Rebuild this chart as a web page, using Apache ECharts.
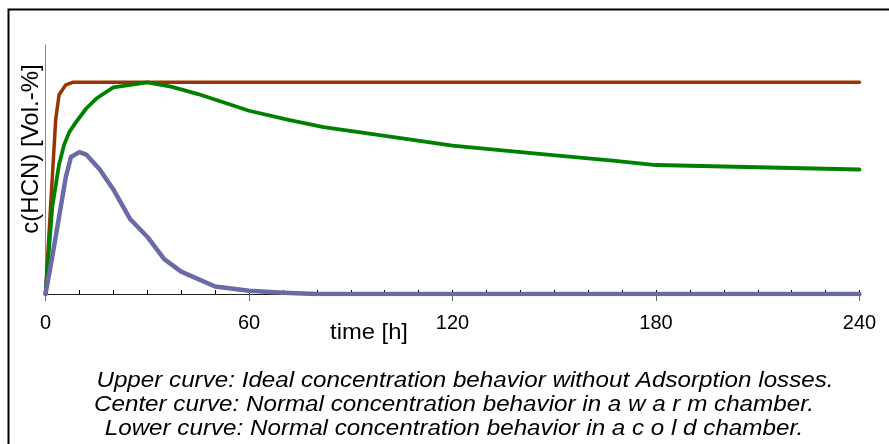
<!DOCTYPE html>
<html>
<head>
<meta charset="utf-8">
<script src="https://cdn.jsdelivr.net/npm/echarts@6/dist/echarts.min.js"></script>
<style>
html,body{margin:0;padding:0;background:#fff;}
#chart{width:889px;height:444px;}
</style>
</head>
<body>
<div id="chart"></div>
<script>
// ---- data ----
var upperT  = [0, 3, 4, 6, 8, 240];
var upperV  = [0, 70, 80, 84, 85, 85];

var centerT = [0, 2, 4, 5.5, 7, 9, 12, 15, 20, 30, 37, 45, 60, 72, 82, 96, 120, 144, 168, 180, 240];
var centerV = [0, 35, 52, 60, 65, 69, 74.5, 78.5, 83, 85, 83.3, 80.3, 73.6, 69.8, 67, 64.3, 59.6, 56.5, 53.5, 51.8, 50];

var lowerT  = [0, 2, 4, 6, 7.5, 10, 12, 16, 20, 25, 30, 35, 40, 50, 60, 70, 80, 240];
var lowerV  = [0, 15, 31, 47, 55, 57, 56, 50, 42, 30, 23, 14, 9, 3, 1.3, 0.5, 0, 0];

var xTicks = [0, 60, 120, 180, 240];
var yAxisTitle = 'c(HCN) [Vol.-%]';
var xAxisTitle = 'time [h]';
var captions = [
  'Upper curve: Ideal concentration behavior without Adsorption losses.',
  'Center curve: Normal concentration behavior in a w a r m chamber.',
  'Lower curve: Normal concentration behavior in a c o l d chamber.'
];

function pairs(t, v) { return t.map(function (x, i) { return [x, v[i]]; }); }

var chart = echarts.init(document.getElementById('chart'), null, {renderer: 'canvas'});
var font = '"Liberation Sans", Arial, sans-serif';

var graphics = [
  {type: 'rect', shape: {x: 8.5, y: 9.5, width: 1000, height: 1000}, style: {fill: 'none', stroke: '#000', lineWidth: 2}, silent: true},
  {type: 'text', x: 31, y: 149, rotation: Math.PI / 2, style: {text: yAxisTitle, font: '24px ' + font, fill: '#000', textAlign: 'center', textVerticalAlign: 'middle'}},
  {type: 'text', x: 369, y: 333, scaleX: 1.08, style: {text: xAxisTitle, font: '22px ' + font, fill: '#000', textAlign: 'center', textVerticalAlign: 'middle'}}
];
var capY = [381, 405, 429];
var capX = [465, 454, 454];
captions.forEach(function (c, i) {
  graphics.push({type: 'text', x: capX[i], y: capY[i], scaleX: 1.1, style: {text: c, font: 'italic 22px ' + font, fill: '#000', textAlign: 'center', textVerticalAlign: 'middle'}});
});

chart.setOption({
  animation: false,
  backgroundColor: '#fff',
  grid: {left: 45.5, right: 29.5, top: 45, bottom: 150, containLabel: false},
  xAxis: [
    {
      type: 'value', min: 0, max: 240, interval: 10,
      axisLine: {show: true, lineStyle: {color: '#222', width: 1}},
      axisTick: {show: true, inside: true, length: 4, lineStyle: {color: '#000', width: 1}},
      axisLabel: {show: false},
      splitLine: {show: false}
    },
    {
      type: 'value', min: 0, max: 240, interval: 60, position: 'bottom',
      axisLine: {show: false},
      axisTick: {show: true, inside: false, length: 7, lineStyle: {color: '#666', width: 1}},
      axisLabel: {show: true, margin: 19, fontSize: 20, fontFamily: font, color: '#000',
        formatter: function (v) { return xTicks.indexOf(v) >= 0 ? String(v) : ''; }},
      splitLine: {show: false}
    }
  ],
  yAxis: {
    type: 'value', min: 0, max: 100,
    axisLine: {show: true, lineStyle: {color: '#888', width: 1}},
    axisTick: {show: false},
    axisLabel: {show: false},
    splitLine: {show: false}
  },
  series: [
    {type: 'line', data: pairs(upperT, upperV), symbol: 'none', lineStyle: {color: '#993300', width: 3.5, join: 'round', cap: 'round'}, itemStyle: {color: '#993300'}},
    {type: 'line', data: pairs(centerT, centerV), symbol: 'none', lineStyle: {color: '#008000', width: 3.8, join: 'round', cap: 'round'}, itemStyle: {color: '#008000'}},
    {type: 'line', data: pairs(lowerT, lowerV), symbol: 'none', lineStyle: {color: '#6a6aa6', width: 4.5, join: 'round', cap: 'round'}, itemStyle: {color: '#6a6aa6'}}
  ],
  graphic: graphics
});
</script>
</body>
</html>
